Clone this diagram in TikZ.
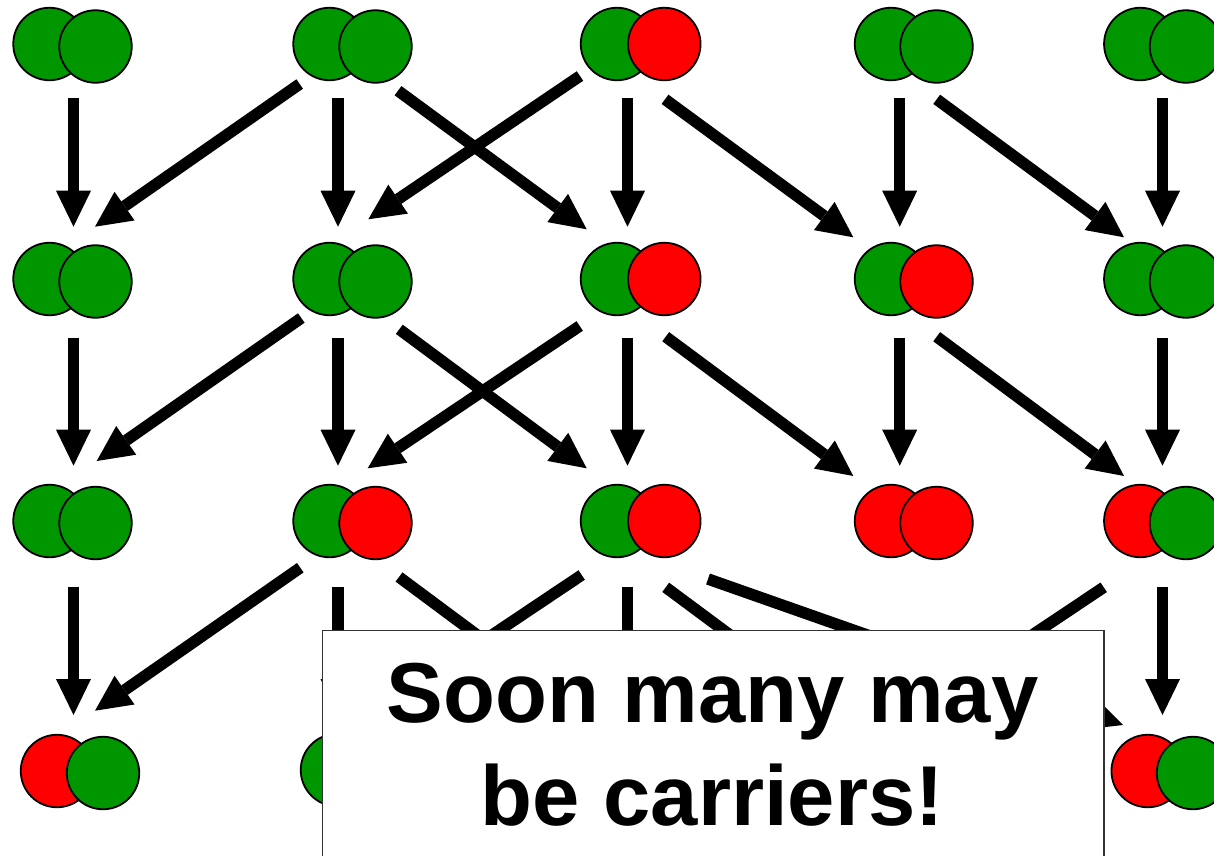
\documentclass[tikz,border=0pt]{standalone}
\usepackage{fontspec}
\setmainfont{Liberation Sans}
\usetikzlibrary{arrows.meta}
\definecolor{gr}{RGB}{0,150,0}
\definecolor{rd}{RGB}{255,0,0}
\begin{document}
\begin{tikzpicture}[x=1pt,y=-1pt,
  ball/.style={circle, draw=black, line width=1.8pt, minimum size=72.5pt, inner sep=0pt},
  G/.style={ball, fill=gr},
  R/.style={ball, fill=rd},
  arr/.style={line width=11.5pt, -{Triangle[length=36pt,width=35pt,line width=0pt]}},
  notebox/.style={draw=black!80, line width=1.2pt, fill=white, inner sep=0pt, anchor=north west},
  msg/.style={font=\fontsize{85}{103}\selectfont\bfseries, inner sep=0pt, anchor=base}]
\useasboundingbox (0,0) rectangle (1214,855);
\clip (0,0) rectangle (1214,855);
% ---------- row 1 ----------
\node[G] (p11l) at (49.5,44) {};   \node[G] (p11r) at (95.5,46.5) {};
\node[G] (p12l) at (329.5,44) {};  \node[G] (p12r) at (375.5,46.5) {};
\node[G] (p13l) at (617,44) {};    \node[R] (p13r) at (664.3,44) {};
\node[G] (p14l) at (891,44) {};    \node[G] (p14r) at (936.5,46.5) {};
\node[G] (p15l) at (1140.3,44) {}; \node[G] (p15r) at (1186,46.5) {};
% ---------- row 2 ----------
\node[G] (p21l) at (49.5,279) {};   \node[G] (p21r) at (95.5,281.5) {};
\node[G] (p22l) at (329.5,279) {};  \node[G] (p22r) at (375.5,281.5) {};
\node[G] (p23l) at (617,279) {};    \node[R] (p23r) at (664.3,279) {};
\node[G] (p24l) at (891,279) {};    \node[R] (p24r) at (936.5,281.5) {};
\node[G] (p25l) at (1140.3,279) {}; \node[G] (p25r) at (1186,281.5) {};
% ---------- row 3 ----------
\node[G] (p31l) at (49.5,521) {};   \node[G] (p31r) at (95.5,523) {};
\node[G] (p32l) at (329.5,521) {};  \node[R] (p32r) at (375.5,523) {};
\node[G] (p33l) at (617,521) {};    \node[R] (p33r) at (664.3,521) {};
\node[R] (p34l) at (891,521) {};    \node[R] (p34r) at (936.5,523) {};
\node[R] (p35l) at (1140.3,521) {}; \node[G] (p35r) at (1186,523) {};
% ---------- row 4 ----------
\node[R] (p41l) at (57,771) {};     \node[G] (p41r) at (103,773) {};
\node[G] (p42l) at (337,770) {};
\node[R] (p45l) at (1147.7,771) {}; \node[G] (p45r) at (1193,773) {};
% ---------- arrow end points ----------
% rows 1 -> 2
\coordinate (v11s) at (73.5,98.3);   \coordinate (v11e) at (73.5,226.7);
\coordinate (v12s) at (338,98.3);    \coordinate (v12e) at (338,226.7);
\coordinate (v13s) at (627.5,98.3);  \coordinate (v13e) at (627.5,226.7);
\coordinate (v14s) at (899.7,98.3);  \coordinate (v14e) at (899.7,226.7);
\coordinate (v15s) at (1162.5,98.3); \coordinate (v15e) at (1162.5,226.7);
\coordinate (d1as) at (299.7,84);    \coordinate (d1ae) at (95,226.7);
\coordinate (d1bs) at (580,76);      \coordinate (d1be) at (368.3,219.3);
\coordinate (d1cs) at (398,90.7);    \coordinate (d1ce) at (586.7,229.3);
\coordinate (d1ds) at (665,99.3);    \coordinate (d1de) at (853.3,237.3);
\coordinate (d1es) at (936.7,99.3);  \coordinate (d1ee) at (1124,237.3);
% rows 2 -> 3
\coordinate (v21s) at (73.5,337.7);   \coordinate (v21e) at (73.5,465.7);
\coordinate (v22s) at (338,337.7);    \coordinate (v22e) at (338,465.7);
\coordinate (v23s) at (627.5,337.7);  \coordinate (v23e) at (627.5,465.7);
\coordinate (v24s) at (899.7,337.7);  \coordinate (v24e) at (899.7,465.7);
\coordinate (v25s) at (1162.5,337.7); \coordinate (v25e) at (1162.5,465.7);
\coordinate (d2as) at (301.3,318);    \coordinate (d2ae) at (96.7,461);
\coordinate (d2bs) at (579.7,326);    \coordinate (d2be) at (367.7,468.3);
\coordinate (d2cs) at (399.3,329.3);  \coordinate (d2ce) at (586.7,468.3);
\coordinate (d2ds) at (665.7,336.7);  \coordinate (d2de) at (853.3,476);
\coordinate (d2es) at (936.7,336.7);  \coordinate (d2ee) at (1124,476);
% rows 3 -> 4
\coordinate (v31s) at (73.5,586.7);   \coordinate (v31e) at (73.5,715);
\coordinate (v32s) at (338,586.7);    \coordinate (v32e) at (338,715);
\coordinate (v33s) at (627.5,586.7);  \coordinate (v33e) at (627.5,715);
\coordinate (v35s) at (1162.5,586.7); \coordinate (v35e) at (1162.5,715);
\coordinate (d3as) at (300.3,567.7);  \coordinate (d3ae) at (95,710.7);
\coordinate (d3bs) at (581.7,575);    \coordinate (d3be) at (369.7,717);
\coordinate (d3cs) at (399,577);      \coordinate (d3ce) at (586,716);
\coordinate (d3ds) at (665.7,587.3);  \coordinate (d3de) at (853.3,726.6);
\coordinate (d3ls) at (708,579);      \coordinate (d3le) at (1123,725);
\coordinate (d3fs) at (1103.7,587.3); \coordinate (d3fe) at (891.7,729);
% ---------- arrows ----------
\foreach \a in {v11,v12,v13,v14,v15,d1a,d1b,d1c,d1d,d1e,
                v21,v22,v23,v24,v25,d2a,d2b,d2c,d2d,d2e,
                v31,v32,v33,v35,d3a,d3b,d3c,d3d,d3l,d3f}
  \draw[arr] (\a s) -- (\a e);
% ---------- note ----------
\node[notebox, minimum width=781.6pt, minimum height=280pt] (note) at (321.7,630) {};
\node[msg] (line1) at (712.5,722) {Soon many may};
\node[msg] (line2) at (712.5,825) {be carriers!};
\end{tikzpicture}
\end{document}
